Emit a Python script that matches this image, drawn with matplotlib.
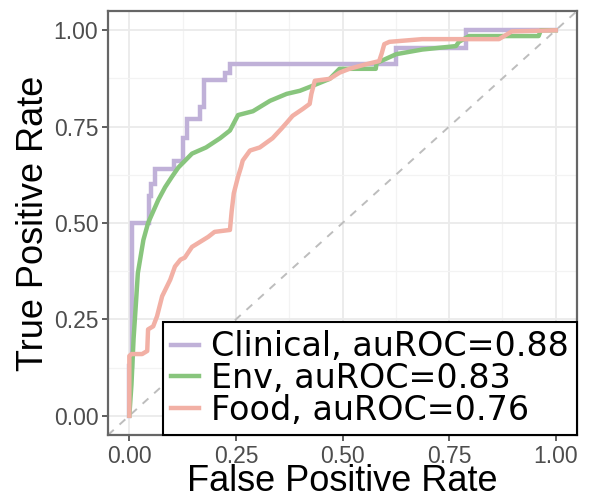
import matplotlib
matplotlib.use('Agg')
import matplotlib.pyplot as plt
from matplotlib import font_manager

# ROC curves
clin_fpr = [0.0, 0.0, 0.007, 0.007, 0.045, 0.045, 0.05, 0.05, 0.06, 0.06, 0.105, 0.105, 0.125,
            0.125, 0.135, 0.135, 0.165, 0.165, 0.175, 0.175, 0.225, 0.225, 0.235, 0.235, 0.626,
            0.626, 0.79, 0.79, 1.0]
clin_tpr = [0.0, 0.13, 0.13, 0.5, 0.5, 0.57, 0.57, 0.6, 0.6, 0.64, 0.64, 0.66, 0.66,
            0.72, 0.72, 0.77, 0.77, 0.80, 0.80, 0.87, 0.87, 0.89, 0.89, 0.912, 0.912,
            0.954, 0.954, 1.0, 1.0]

env_fpr = [0.0, 0.005, 0.01, 0.016, 0.02, 0.033, 0.044, 0.068, 0.084, 0.1, 0.115, 0.147, 0.18,
           0.213, 0.236, 0.255, 0.29, 0.33, 0.369, 0.40, 0.43, 0.47, 0.493, 0.54, 0.578, 0.58,
           0.626, 0.687, 0.766, 0.773, 0.797, 0.96, 0.965, 1.0]
env_tpr = [0.0, 0.08, 0.2, 0.3, 0.37, 0.456, 0.5, 0.56, 0.593, 0.62, 0.644, 0.68, 0.696,
           0.72, 0.74, 0.78, 0.79, 0.817, 0.835, 0.843, 0.856, 0.874, 0.9, 0.90, 0.90, 0.915,
           0.938, 0.95, 0.959, 0.97, 0.985, 0.985, 1.0, 1.0]

food_fpr = [0.0, 0.0, 0.005, 0.03, 0.042, 0.044, 0.056, 0.065, 0.077, 0.096, 0.107, 0.12, 0.13,
            0.147, 0.166, 0.185, 0.2, 0.236, 0.24, 0.245, 0.255, 0.262, 0.266, 0.283, 0.306,
            0.336, 0.357, 0.369, 0.383, 0.407, 0.423, 0.427, 0.435, 0.47, 0.493, 0.516, 0.556,
            0.586, 0.592, 0.598, 0.61, 0.687, 0.867, 0.897, 1.0]
food_tpr = [0.0, 0.155, 0.16, 0.16, 0.168, 0.224, 0.232, 0.258, 0.31, 0.353, 0.387, 0.405, 0.41,
            0.438, 0.451, 0.464, 0.477, 0.482, 0.53, 0.577, 0.62, 0.645, 0.662, 0.688, 0.696,
            0.72, 0.745, 0.76, 0.778, 0.796, 0.809, 0.835, 0.869, 0.874, 0.89, 0.90, 0.912,
            0.92, 0.94, 0.964, 0.97, 0.977, 0.977, 0.997, 1.0]

labels = ['Clinical, auROC=0.88', 'Env, auROC=0.83', 'Food, auROC=0.76']
colors = ['#C0B1D8', '#88C57D', '#F2B0A5']
ticks = [0.0, 0.25, 0.5, 0.75, 1.0]

names = {f.name for f in font_manager.fontManager.ttflist}
if 'Liberation Sans Narrow' in names:
    lab_font, lab_size = 'Liberation Sans Narrow', 31
else:
    lab_font, lab_size = 'Liberation Sans', 26

fig = plt.figure(figsize=(5.92, 5.0), dpi=100)
ax = fig.add_axes([108/592, 65/500, 469/592, 424/500])

ax.set_xticks(ticks)
ax.set_yticks(ticks)
ax.set_xticks([0.125, 0.375, 0.625, 0.875], minor=True)
ax.set_yticks([0.125, 0.375, 0.625, 0.875], minor=True)
ax.grid(True, which='major', color='#EBEBEB', lw=1.3)
ax.grid(True, which='minor', color='#F3F3F3', lw=0.9)
ax.set_axisbelow(True)
ax.tick_params(which='minor', length=0)

ax.plot([-0.05, 1.05], [-0.05, 1.05], color='#BDBDBD', lw=1.4, ls=(0, (4, 4)))

ax.plot(clin_fpr, clin_tpr, color=colors[0], lw=3.2, label=labels[0], solid_joinstyle='miter')
ax.plot(env_fpr, env_tpr, color=colors[1], lw=3.2, label=labels[1])
ax.plot(food_fpr, food_tpr, color=colors[2], lw=3.2, label=labels[2])

ax.set_xlim(-0.05, 1.05)
ax.set_ylim(-0.05, 1.05)
ax.set_xticklabels(['0.00', '0.25', '0.50', '0.75', '1.00'])
ax.set_yticklabels(['0.00', '0.25', '0.50', '0.75', '1.00'])
ax.tick_params(which='major', length=4, width=1.1, color='#333333', labelcolor='#4D4D4D',
               labelsize=16.5, pad=3)
for t in ax.get_xticklabels() + ax.get_yticklabels():
    t.set_family('Liberation Sans')
for s in ax.spines.values():
    s.set_color('#666666')
    s.set_linewidth(1.6)

ax.set_xlabel('False Positive Rate', family=lab_font, fontsize=lab_size, labelpad=-3)
ax.set_ylabel('True Positive Rate', family=lab_font, fontsize=lab_size, labelpad=2)

leg = ax.legend(loc='lower right', borderaxespad=0.0,
                prop={'family': 'DejaVu Sans', 'size': 24},
                labelspacing=-0.04, handlelength=0.85, handletextpad=0.35,
                borderpad=0.25, fancybox=False, framealpha=1, edgecolor='black')
leg.get_frame().set_linewidth(1.5)

fig.savefig('out.png', dpi=100)
